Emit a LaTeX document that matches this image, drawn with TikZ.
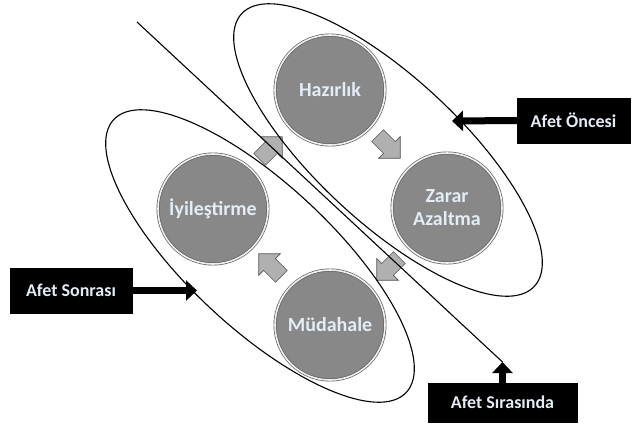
\documentclass[tikz,border=0pt]{standalone}
\usepackage{fontspec}
\setmainfont{Carlito}
\usetikzlibrary{shapes.arrows, arrows.meta}
\definecolor{discfill}{RGB}{136,136,136}
\definecolor{discedge}{RGB}{95,95,95}
\definecolor{flowfill}{RGB}{176,176,176}
\definecolor{flowedge}{RGB}{85,85,85}
\definecolor{labeltext}{RGB}{228,236,246}

\begin{document}
\begin{tikzpicture}[x=1pt, y=-1pt,
  phase/.style={circle, fill=discfill, draw=discedge, line width=0.7pt,
    double=white!88!gray, double distance=1.6pt, minimum size=110pt,
    inner sep=0pt, text=labeltext, align=center,
    font=\bfseries\fontsize{20}{23}\selectfont},
  flow/.style={single arrow, fill=flowfill, draw=flowedge, line width=0.6pt,
    minimum height=32pt, inner xsep=0pt, inner ysep=8pt,
    single arrow head extend=7pt},
  period/.style={fill=black, draw=black, text=labeltext, inner sep=0pt,
    font=\bfseries\fontsize{18}{20}\selectfont},
  pointer/.style={line width=7pt, draw=black, -{Triangle[width=20pt, length=11pt]}},
  outline/.style={line width=1.1pt, draw=black}
]
\useasboundingbox (0,0) rectangle (635,426);

% the four phases of the cycle
\node[phase] (hazirlik) at (330,90) {Hazırlık};
\node[phase] (zarar) at (447,208) {Zarar\\Azaltma};
\node[phase] (mudahale) at (330,325) {Müdahale};
\node[phase] (iyilestirme) at (213,209) {İyileştirme};

% flow arrows between the phases
\node[flow, rotate=-45] (f1) at (386,144) {};
\node[flow, rotate=-135] (f2) at (391,266) {};
\node[flow, rotate=135] (f3) at (273,268) {};
\node[flow, rotate=45] (f4) at (268,151) {};

% grouping ellipses and the dividing line
\draw[outline, rotate around={-43:(388,150)}] (388,150) ellipse [x radius=200, y radius=72];
\draw[outline, rotate around={-43:(260,256)}] (260,256) ellipse [x radius=200, y radius=72];

% period labels
\node[period, minimum width=113pt, minimum height=45pt] (oncesi) at (573.5,120.5) {Afet Öncesi};
\node[period, minimum width=122pt, minimum height=45pt] (sonrasi) at (71,290.5) {Afet Sonrası};
\node[period, minimum width=149pt, minimum height=39pt] (sirasinda) at (502.5,402.5) {Afet Sırasında};

\coordinate (oncesiTip) at (452,121);
\coordinate (sonrasiTip) at (197,290.5);
\coordinate (sirasindaTip) at (502.5,362);
\coordinate (lineStart) at (137,22);

\draw[outline] (lineStart) -- (sirasindaTip);
\draw[pointer] (oncesi.west) -- (oncesiTip);
\draw[pointer] (sonrasi.east) -- (sonrasiTip);
\draw[pointer] (sirasinda.north) -- (sirasindaTip);
\end{tikzpicture}
\end{document}
